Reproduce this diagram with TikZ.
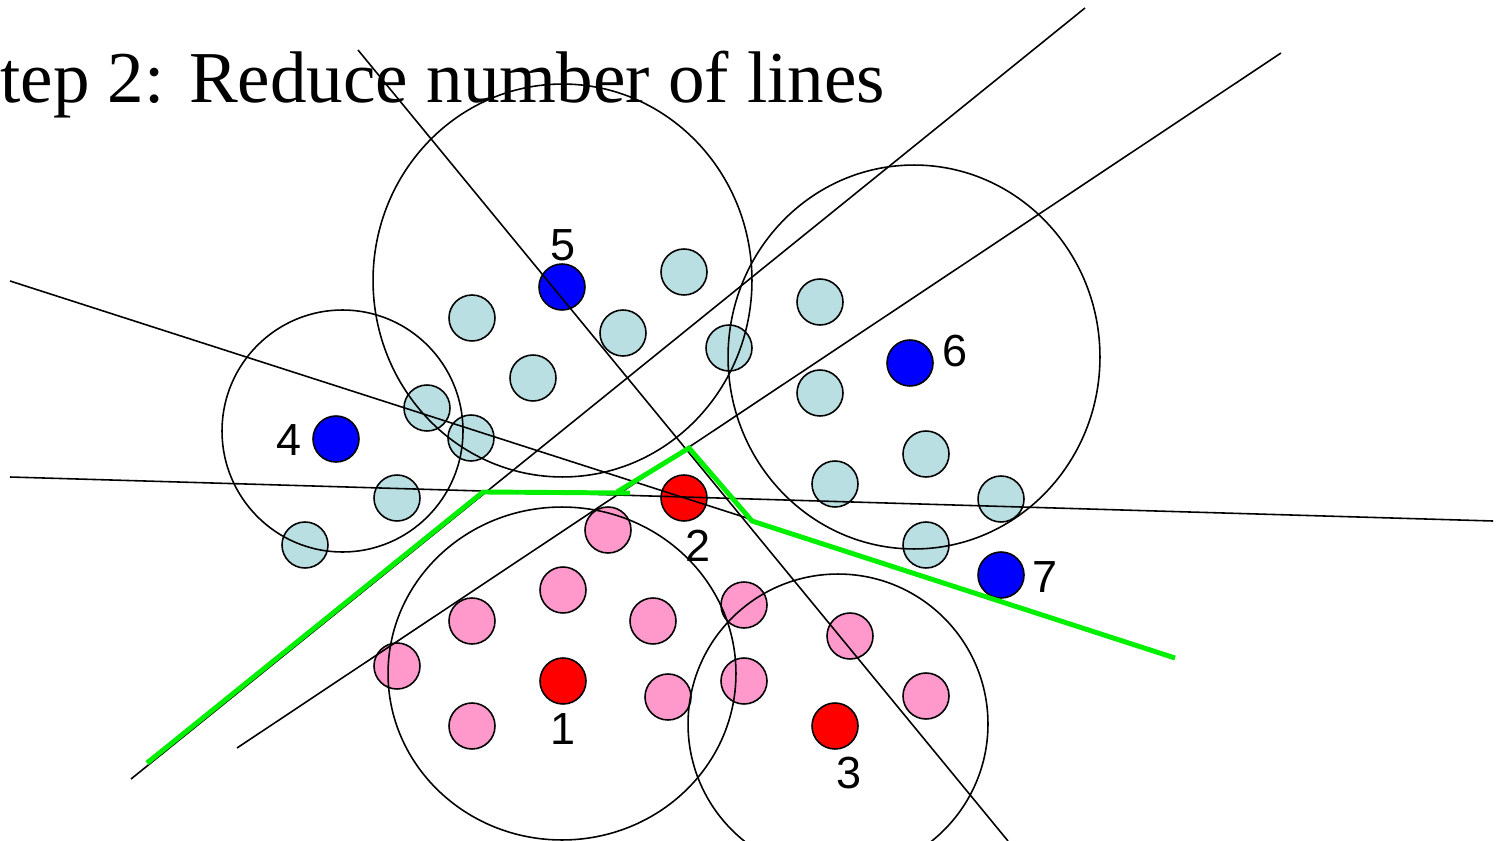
\documentclass[tikz,border=0pt]{standalone}
\usepackage{fontspec}
\setmainfont{Liberation Serif}
\newfontfamily\digitfont{Liberation Sans}
\definecolor{lblue}{RGB}{185,223,226}
\definecolor{dpink}{RGB}{255,153,204}
\definecolor{dred}{RGB}{255,0,0}
\definecolor{dblue}{RGB}{0,0,255}
\definecolor{vgreen}{RGB}{0,240,0}
\begin{document}
\begin{tikzpicture}[x=0.02cm,y=-0.02cm,
  dot/.style={circle,draw=black,line width=0.9pt,minimum size=0.92cm,inner sep=0pt},
  lbdot/.style={dot,fill=lblue},
  pkdot/.style={dot,fill=dpink},
  rddot/.style={dot,fill=dred},
  bldot/.style={dot,fill=dblue},
  ring/.style={draw=black,line width=0.9pt},
  cutline/.style={draw=black,line width=0.9pt},
  border/.style={draw=vgreen,line width=2.8pt,line join=miter},
  lbl/.style={font=\digitfont\fontsize{25.6}{28}\selectfont,inner sep=0pt,anchor=center}]
\useasboundingbox (0,0) rectangle (1500,841);
% title
\node[anchor=base west,inner sep=0pt,font=\fontsize{41.6}{46}\selectfont] (title) at (0,103) {tep 2: Reduce number of lines};
% light blue dots
\node[lbdot] (c1) at (684,272) {};
\node[lbdot] (c2) at (472,318) {};
\node[lbdot] (c3) at (623,333) {};
\node[lbdot] (c4) at (533,378) {};
\node[lbdot] (c5) at (729,348) {};
\node[lbdot] (c6) at (820,302) {};
\node[lbdot] (c7) at (820,393) {};
\node[lbdot] (c8) at (926,454) {};
\node[lbdot] (c9) at (835,484) {};
\node[lbdot] (c10) at (1001,499) {};
\node[lbdot] (c11) at (926,545) {};
\node[lbdot] (c12) at (427,408) {};
\node[lbdot] (c13) at (471,438) {};
\node[lbdot] (c14) at (397,498) {};
\node[lbdot] (c15) at (305,545) {};
% pink dots
\node[pkdot] (p1) at (608,530) {};
\node[pkdot] (p2) at (563,590) {};
\node[pkdot] (p3) at (472,621) {};
\node[pkdot] (p4) at (653,621) {};
\node[pkdot] (p5) at (397,666) {};
\node[pkdot] (p6) at (668,697) {};
\node[pkdot] (p7) at (472,726) {};
\node[pkdot] (p8) at (744,605) {};
\node[pkdot] (p9) at (744,681) {};
\node[pkdot] (p10) at (850,636) {};
\node[pkdot] (p11) at (926,696) {};
% centres
\node[bldot] (n5) at (562,287) {};
\node[bldot] (n4) at (336,439) {};
\node[bldot] (n6) at (910,363) {};
\node[bldot] (n7) at (1001,575) {};
\node[rddot] (n2) at (684,498) {};
\node[rddot] (n1) at (563,681) {};
\node[rddot] (n3) at (835,726) {};
% labels
\node[lbl] (t5) at (563,245) {5};
\node[lbl] (t4) at (289,440) {4};
\node[lbl] (t6) at (955,351) {6};
\node[lbl] (t7) at (1045,577) {7};
\node[lbl] (t2) at (698,546) {2};
\node[lbl] (t1) at (563,729) {1};
\node[lbl] (t3) at (849,773) {3};
% big circles (cluster outlines)
\coordinate (o5) at (562.5,280.5);
\coordinate (o4) at (342.5,431);
\coordinate (o6) at (914,357);
\coordinate (o1) at (562,673.5);
\coordinate (o3) at (838,724);
\draw[ring] (o5) ellipse[x radius=3.79cm,y radius=3.93cm];
\draw[ring] (o4) ellipse[x radius=2.41cm,y radius=2.42cm];
\draw[ring] (o6) ellipse[x radius=3.72cm,y radius=3.84cm];
\draw[ring] (o1) ellipse[x radius=3.48cm,y radius=3.33cm];
\draw[ring] (o3) ellipse[x radius=3.0cm,y radius=3.0cm];
% lines
\coordinate (a1) at (358,50);   \coordinate (b1) at (1008,841);
\coordinate (a2) at (131,779);  \coordinate (b2) at (1085,8);
\coordinate (a3) at (237,748);  \coordinate (b3) at (1281,53);
\coordinate (a4) at (10,281);   \coordinate (b4) at (750,519);
\coordinate (a5) at (10,477);   \coordinate (b5) at (1493,521);
\draw[cutline] (a1) -- (b1);
\draw[cutline] (a2) -- (b2);
\draw[cutline] (a3) -- (b3);
\draw[cutline] (a4) -- (b4);
\draw[cutline] (a5) -- (b5);
% green border
\coordinate (g1) at (147,763);
\coordinate (g2) at (483,492);
\coordinate (g3) at (630,493);
\coordinate (g4) at (617,492);
\coordinate (g5) at (689,448);
\coordinate (g6) at (752,521);
\coordinate (g7) at (1175,658);
\draw[border] (g1) -- (g2) -- (g3);
\draw[border] (g4) -- (g5) -- (g6) -- (g7);
\end{tikzpicture}
\end{document}
